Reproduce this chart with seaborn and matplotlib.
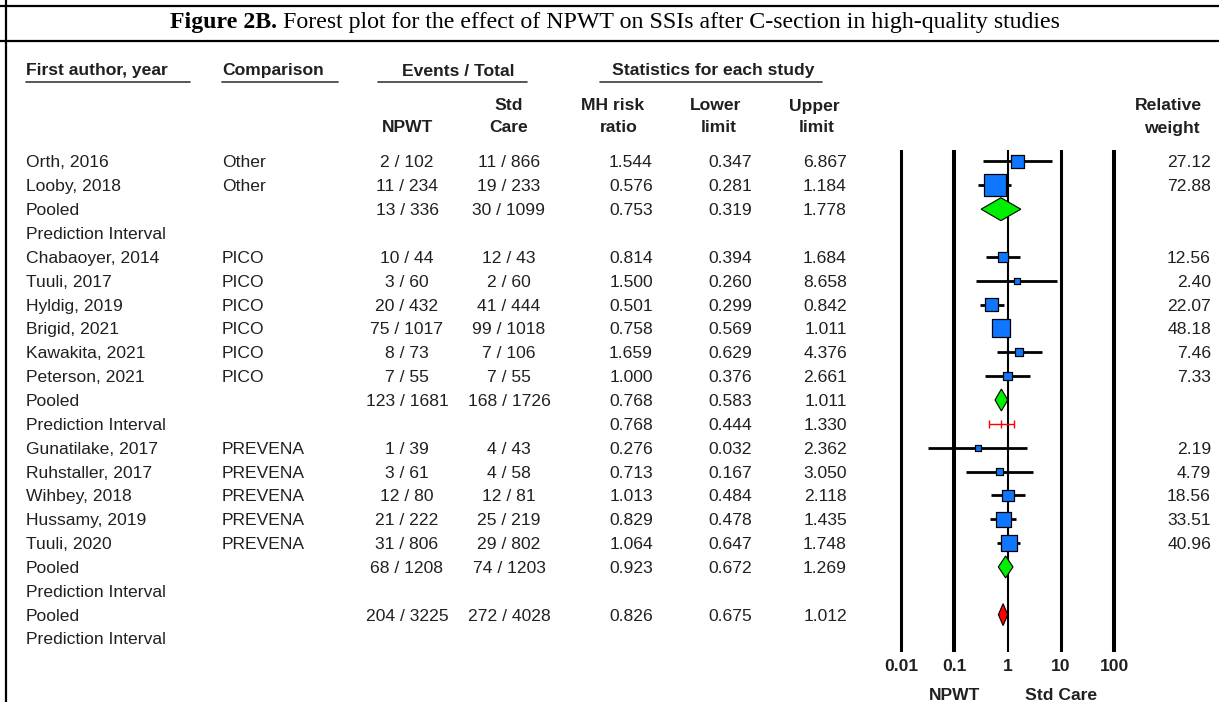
import matplotlib
matplotlib.use("Agg")
import matplotlib.pyplot as plt
import matplotlib.transforms as mtransforms
from matplotlib.patches import Polygon
from matplotlib.ticker import NullLocator
import numpy as np
import pandas as pd
import seaborn as sns

# ---------------- data ----------------
nan = np.nan
study_labels = ["Orth, 2016", "Looby, 2018", "Pooled", "Prediction Interval",
                "Chabaoyer, 2014", "Tuuli, 2017", "Hyldig, 2019", "Brigid, 2021",
                "Kawakita, 2021", "Peterson, 2021", "Pooled", "Prediction Interval",
                "Gunatilake, 2017", "Ruhstaller, 2017", "Wihbey, 2018", "Hussamy, 2019",
                "Tuuli, 2020", "Pooled", "Prediction Interval", "Pooled", "Prediction Interval"]
comparison = ["Other", "Other", "", "",
              "PICO", "PICO", "PICO", "PICO", "PICO", "PICO", "", "",
              "PREVENA", "PREVENA", "PREVENA", "PREVENA", "PREVENA", "", "", "", ""]
row_type = ["study", "study", "pooled", "pi",
            "study", "study", "study", "study", "study", "study", "pooled", "pi",
            "study", "study", "study", "study", "study", "pooled", "pi", "overall", "pi"]
npwt_events = ["2 / 102", "11 / 234", "13 / 336", "",
               "10 / 44", "3 / 60", "20 / 432", "75 / 1017", "8 / 73", "7 / 55", "123 / 1681", "",
               "1 / 39", "3 / 61", "12 / 80", "21 / 222", "31 / 806", "68 / 1208", "", "204 / 3225", ""]
std_events = ["11 / 866", "19 / 233", "30 / 1099", "",
              "12 / 43", "2 / 60", "41 / 444", "99 / 1018", "7 / 106", "7 / 55", "168 / 1726", "",
              "4 / 43", "4 / 58", "12 / 81", "25 / 219", "29 / 802", "74 / 1203", "", "272 / 4028", ""]
risk_ratio = [1.544, 0.576, 0.753, nan,
              0.814, 1.500, 0.501, 0.758, 1.659, 1.000, 0.768, 0.768,
              0.276, 0.713, 1.013, 0.829, 1.064, 0.923, nan, 0.826, nan]
lower_limit = [0.347, 0.281, 0.319, nan,
               0.394, 0.260, 0.299, 0.569, 0.629, 0.376, 0.583, 0.444,
               0.032, 0.167, 0.484, 0.478, 0.647, 0.672, nan, 0.675, nan]
upper_limit = [6.867, 1.184, 1.778, nan,
               1.684, 8.658, 0.842, 1.011, 4.376, 2.661, 1.011, 1.330,
               2.362, 3.050, 2.118, 1.435, 1.748, 1.269, nan, 1.012, nan]
relative_weight = [27.12, 72.88, nan, nan,
                   12.56, 2.40, 22.07, 48.18, 7.46, 7.33, nan, nan,
                   2.19, 4.79, 18.56, 33.51, 40.96, nan, nan, nan, nan]
axis_ticks = [0.01, 0.1, 1, 10, 100]
axis_tick_labels = ["0.01", "0.1", "1", "10", "100"]
title_bold = "Figure 2B."
title_rest = " Forest plot for the effect of NPWT on SSIs after C-section in high-quality studies"

df = pd.DataFrame({
    "label": study_labels, "comparison": comparison, "kind": row_type,
    "npwt": npwt_events, "std": std_events, "rr": risk_ratio,
    "lo": lower_limit, "hi": upper_limit, "weight": relative_weight,
})
df["row"] = np.arange(len(df))

# ---------------- style ----------------
sns.set_theme(style="white")
plt.rcParams["font.family"] = ["Liberation Sans", "DejaVu Sans"]
TXT = "#202020"
FS = 12.6
W, H = 1219, 702
ROW0, STEP = 161.5, 23.85

fig = plt.figure(figsize=(W / 100, H / 100), dpi=100)
fig.patch.set_facecolor("white")

# background axes in pixel coordinates for table layout
bg = fig.add_axes([0, 0, 1, 1], zorder=0)
bg.set_xlim(0, W)
bg.set_ylim(H, 0)
bg.axis("off")

# forest axes (log scale)
ax_left, ax_right, ax_top, ax_bot = 880, 1135, 150, 652
ax = fig.add_axes([ax_left / W, 1 - ax_bot / H, (ax_right - ax_left) / W, (ax_bot - ax_top) / H], zorder=1)
ax.set_facecolor("none")
ax.set_xscale("log")
dec = 53.3
ax.set_xlim(10 ** (-2 - (901 - ax_left) / dec), 10 ** (2 + (ax_right - 1114) / dec))
ax.set_ylim((ax_bot - ROW0) / STEP, (ax_top - ROW0) / STEP)

# frame lines
bg.plot([0, W], [5.5, 5.5], color="black", lw=1.6, solid_capstyle="butt")
bg.plot([0, W], [40.5, 40.5], color="black", lw=1.6, solid_capstyle="butt")
bg.plot([6, 6], [0, H], color="black", lw=1.6, solid_capstyle="butt")

# title
rend = fig.canvas.get_renderer()
TFS = 17.2
t1 = bg.text(170, 22.5, title_bold, family="Liberation Serif", fontweight="bold",
             fontsize=TFS, color="black", ha="left", va="center")
bb = t1.get_window_extent(rend)
bg.text(bb.x1, 22.5, title_rest, family="Liberation Serif", fontsize=TFS,
        color="black", ha="left", va="center")

# headers
hkw = dict(fontsize=FS, fontweight="bold", color=TXT, va="center")
bg.text(26, 71, "First author, year", ha="left", **hkw)
bg.text(222, 71, "Comparison", ha="left", **hkw)
bg.text(458, 71, "Events / Total", ha="center", **hkw)
bg.text(713, 71, "Statistics for each study", ha="center", **hkw)
for x0, x1 in [(26, 190), (222, 338), (378, 527), (600, 822)]:
    bg.plot([x0, x1], [82, 82], color="#3a3a3a", lw=1.2)
bg.text(408, 128, "NPWT", ha="center", **hkw)
bg.text(509, 106, "Std", ha="center", **hkw)
bg.text(509, 128, "Care", ha="center", **hkw)
bg.text(613, 106, "MH risk", ha="center", **hkw)
bg.text(619, 128, "ratio", ha="center", **hkw)
bg.text(716, 106, "Lower", ha="center", **hkw)
bg.text(719, 128, "limit", ha="center", **hkw)
bg.text(814, 106, "Upper", ha="center", **hkw)
bg.text(817, 128, "limit", ha="center", **hkw)
bg.text(1202, 106, "Relative", ha="right", **hkw)
bg.text(1200, 128, "weight", ha="right", **hkw)

# table rows (x in pixels, y in forest row units)
trans = mtransforms.blended_transform_factory(bg.transData, ax.transData)
rkw = dict(fontsize=FS, color=TXT, va="center_baseline", transform=trans, clip_on=False)
for _, r in df.iterrows():
    y = r["row"]
    bg.text(26, y, r["label"], ha="left", **rkw)
    if r["comparison"]:
        bg.text(222, y, r["comparison"], ha="left", **rkw)
    if r["npwt"]:
        bg.text(407, y, r["npwt"], ha="center", **rkw)
    if r["std"]:
        bg.text(509, y, r["std"], ha="center", **rkw)
    if not np.isnan(r["rr"]):
        bg.text(653, y, f"{r['rr']:.3f}", ha="right", **rkw)
        bg.text(752, y, f"{r['lo']:.3f}", ha="right", **rkw)
        bg.text(847, y, f"{r['hi']:.3f}", ha="right", **rkw)
    if not np.isnan(r["weight"]):
        bg.text(1211, y, f"{r['weight']:.2f}", ha="right", **rkw)

# vertical reference lines
for xv, lw in zip(axis_ticks, [2.2, 2.9, 1.5, 2.2, 2.9]):
    ax.axvline(xv, color="black", lw=lw, zorder=1)

# study CIs and squares
studies = df[df["kind"] == "study"]
ax.hlines(studies["row"], studies["lo"], studies["hi"], color="black", lw=2.0, zorder=2)
sns.scatterplot(data=studies, x="rr", y="row", size="weight", sizes=(18, 250),
                size_norm=(2.19, 72.88), marker="s", color="#0f77ff",
                edgecolor="black", linewidth=0.9, legend=False, ax=ax, zorder=3)

# pooled diamonds
h = 0.46
for _, r in df[df["kind"].isin(["pooled", "overall"])].iterrows():
    fc = "#00ee00" if r["kind"] == "pooled" else "#ff0000"
    y = r["row"]
    hh = 0.48 if y == 2 else h
    poly = Polygon([(r["lo"], y), (r["rr"], y - hh), (r["hi"], y), (r["rr"], y + hh)],
                   closed=True, facecolor=fc, edgecolor="black", lw=0.8, zorder=4)
    ax.add_patch(poly)

# prediction interval with values
pis = df[(df["kind"] == "pi") & df["rr"].notna()]
for _, r in pis.iterrows():
    ax.errorbar(r["rr"], r["row"], xerr=[[r["rr"] - r["lo"]], [r["hi"] - r["rr"]]],
                fmt="|", color="red", ms=6, mew=1.0, elinewidth=1.0,
                capsize=3.2, capthick=1.0, zorder=4)

# axis cosmetics
ax.set_xticks(axis_ticks)
ax.set_xticklabels(axis_tick_labels, fontsize=FS, fontweight="bold", color=TXT)
ax.xaxis.set_minor_locator(NullLocator())
ax.tick_params(axis="x", length=0, pad=5)
ax.set_yticks([])
ax.set_xlabel("")
ax.set_ylabel("")
for s in ax.spines.values():
    s.set_visible(False)
ax.grid(False)

bt = mtransforms.blended_transform_factory(ax.transData, bg.transData)
ax.text(0.1, 695, "NPWT", transform=bt, ha="center", va="center", fontsize=FS,
        fontweight="bold", color=TXT, clip_on=False)
ax.text(10, 695, "Std Care", transform=bt, ha="center", va="center", fontsize=FS,
        fontweight="bold", color=TXT, clip_on=False)

fig.savefig("out.png", dpi=100, facecolor="white")
